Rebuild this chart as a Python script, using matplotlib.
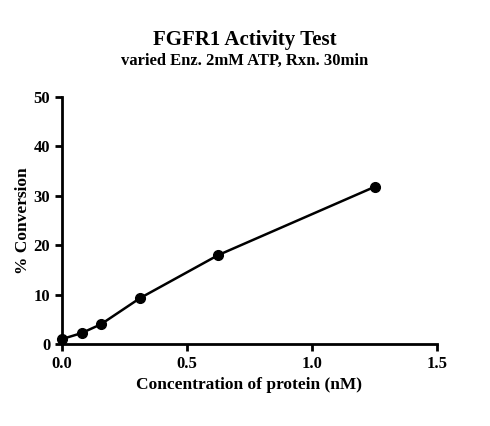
import matplotlib
matplotlib.use("Agg")
import matplotlib.pyplot as plt

x = [0, 0.078, 0.156, 0.3125, 0.625, 1.25]
y = [1.0, 2.2, 4.0, 9.3, 18.0, 31.8]
xticks = [0.0, 0.5, 1.0, 1.5]
yticks = [0, 10, 20, 30, 40, 50]

plt.rcParams['font.family'] = ['Liberation Serif']
plt.rcParams['font.weight'] = 'bold'
fig = plt.figure(figsize=(4.9, 4.26), dpi=100)
ax = fig.add_axes([62/490, 1-344/426, (437-62)/490, (344-97)/426])
ax.plot(x, y, color='black', lw=1.8, marker='o', ms=7, clip_on=False, zorder=3)
ax.set_xlim(0, 1.5)
ax.set_ylim(0, 50)
ax.set_xticks(xticks)
ax.set_xticklabels(['0.0', '0.5', '1.0', '1.5'])
ax.set_yticks(yticks)
ax.minorticks_off()
for s in ['top', 'right']:
    ax.spines[s].set_visible(False)
for s in ['left', 'bottom']:
    ax.spines[s].set_linewidth(2)
ax.tick_params(width=2, length=5, labelsize=12)
for t in ax.get_xticklabels() + ax.get_yticklabels():
    t.set_fontweight('bold')
ax.set_xlabel('Concentration of protein (nM)', fontsize=12.5, fontweight='bold')
ax.set_ylabel('% Conversion', fontsize=12.5, fontweight='bold', labelpad=2)
fig.text(0.5, 1-40/426, 'FGFR1 Activity Test', ha='center', va='center', fontsize=15, fontweight='bold')
fig.text(0.5, 1-61/426, 'varied Enz. 2mM ATP, Rxn. 30min', ha='center', va='center', fontsize=12, fontweight='bold')
fig.savefig('out.png', dpi=100)
